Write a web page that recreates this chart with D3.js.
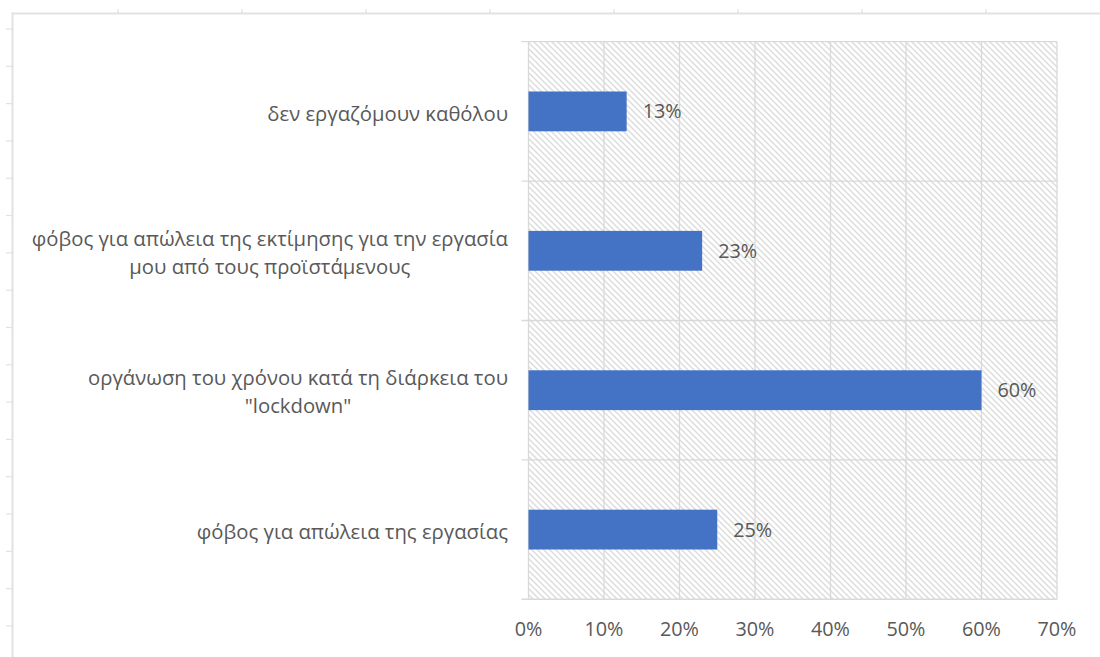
<!DOCTYPE html>
<html>
<head>
<meta charset="utf-8">
<script src="https://cdn.jsdelivr.net/npm/d3@7"></script>
<style>
  html, body { margin: 0; padding: 0; background: #ffffff; }
  svg { display: block; }
  text { font-family: "Open Sans", "Noto Sans", sans-serif; fill: #595959; }
</style>
</head>
<body>
<svg id="chart" width="1100" height="657"></svg>
<script>
// Reasons reported (share of respondents), top to bottom
const categories = [
  "δεν εργαζόμουν καθόλου",
  "φόβος για απώλεια της εκτίμησης για την εργασία\nμου από τους προϊστάμενους",
  "οργάνωση του χρόνου κατά τη διάρκεια του\n\"lockdown\"",
  "φόβος για απώλεια της εργασίας"
];
const values = [0.13, 0.23, 0.60, 0.25];
const xTicks = [0, 0.1, 0.2, 0.3, 0.4, 0.5, 0.6, 0.7];

const W = 1100, H = 657;
const plot = { left: 528.5, right: 1057, top: 41.7, bottom: 599.3 };
const fontSize = 20.3;
const numSize = 19.8;

const svg = d3.select("#chart");

// Hatched plot-area fill
const defs = svg.append("defs");
const pat = defs.append("pattern")
  .attr("id", "hatch")
  .attr("patternUnits", "userSpaceOnUse")
  .attr("width", 6).attr("height", 6);
pat.append("rect").attr("width", 6).attr("height", 6).attr("fill", "#ffffff");
pat.append("path")
  .attr("d", "M-1,-1 L7,7 M-4,2 L2,8 M4,-2 L8,2")
  .attr("stroke", "#dcdcdc")
  .attr("stroke-width", 1.4);

// Outer sheet-style frame with small ticks
const frame = svg.append("g").attr("stroke", "#e2e2e2").attr("fill", "none");
frame.append("line").attr("x1", 12).attr("x2", W).attr("y1", 13.5).attr("y2", 13.5).attr("stroke-width", 2);
frame.append("line").attr("x1", 12.5).attr("x2", 12.5).attr("y1", 12.5).attr("y2", H).attr("stroke-width", 2);
d3.range(118, W, 124).forEach(x => {
  frame.append("line").attr("x1", x).attr("x2", x).attr("y1", 9).attr("y2", 13).attr("stroke-width", 1.2);
});
d3.range(0, 17).forEach(k => {
  const y = 29 + k * 37.31;
  frame.append("line").attr("x1", 6).attr("x2", 12).attr("y1", y).attr("y2", y).attr("stroke-width", 1.2);
});

// Scales
const x = d3.scaleLinear().domain([0, 0.7]).range([plot.left, plot.right]);
const y = d3.scaleBand().domain(categories).range([plot.top, plot.bottom]).padding(0);
const bw = y.bandwidth();
const barH = bw / 3.5; // gap width 250%

// Plot background
svg.append("rect")
  .attr("x", plot.left).attr("y", plot.top)
  .attr("width", plot.right - plot.left).attr("height", plot.bottom - plot.top)
  .attr("fill", "url(#hatch)");

// Vertical gridlines
svg.append("g").selectAll("line")
  .data(xTicks)
  .join("line")
  .attr("x1", d => x(d)).attr("x2", d => x(d))
  .attr("y1", plot.top).attr("y2", plot.bottom)
  .attr("stroke", "#d9d9d9").attr("stroke-width", 1.3);

// Category boundary lines (with outside ticks)
const bounds = categories.map(c => y(c));
svg.append("g").selectAll("line")
  .data(bounds)
  .join("line")
  .attr("x1", plot.left - 7).attr("x2", plot.right)
  .attr("y1", d => d).attr("y2", d => d)
  .attr("stroke", "#d9d9d9").attr("stroke-width", 1.3);

// Value axis line
svg.append("line")
  .attr("x1", plot.left - 7).attr("x2", plot.right)
  .attr("y1", plot.bottom).attr("y2", plot.bottom)
  .attr("stroke", "#d9d9d9").attr("stroke-width", 1.5);

// Bars
svg.append("g").selectAll("rect")
  .data(values)
  .join("rect")
  .attr("x", x(0))
  .attr("y", (d, i) => y(categories[i]) + (bw - barH) / 2)
  .attr("width", d => x(d) - x(0))
  .attr("height", barH)
  .attr("fill", "#4472c4");

// Data labels
svg.append("g").selectAll("text")
  .data(values)
  .join("text")
  .attr("x", d => x(d) + 16)
  .attr("y", (d, i) => y(categories[i]) + bw / 2)
  .attr("dy", "0.35em")
  .style("font-size", numSize + "px")
  .text(d => d3.format(".0%")(d));

// Value axis tick labels
svg.append("g").selectAll("text")
  .data(xTicks)
  .join("text")
  .attr("x", d => x(d))
  .attr("y", 636)
  .attr("text-anchor", "middle")
  .style("font-size", numSize + "px")
  .text(d => d3.format(".0%")(d));

// Category labels: right-aligned block, lines centred within the block
const labelRight = 508;
const lineH = 28;
categories.forEach(c => {
  const lines = c.split("\n");
  const g = svg.append("g");
  const texts = lines.map(l => g.append("text").style("font-size", fontSize + "px").text(l));
  const blockW = d3.max(texts, t => t.node().getComputedTextLength());
  const cy = y(c) + bw / 2 + 2;
  texts.forEach((t, i) => {
    t.attr("x", labelRight - blockW / 2)
     .attr("text-anchor", "middle")
     .attr("y", cy + (i - (lines.length - 1) / 2) * lineH)
     .attr("dy", "0.35em");
  });
});
</script>
</body>
</html>
